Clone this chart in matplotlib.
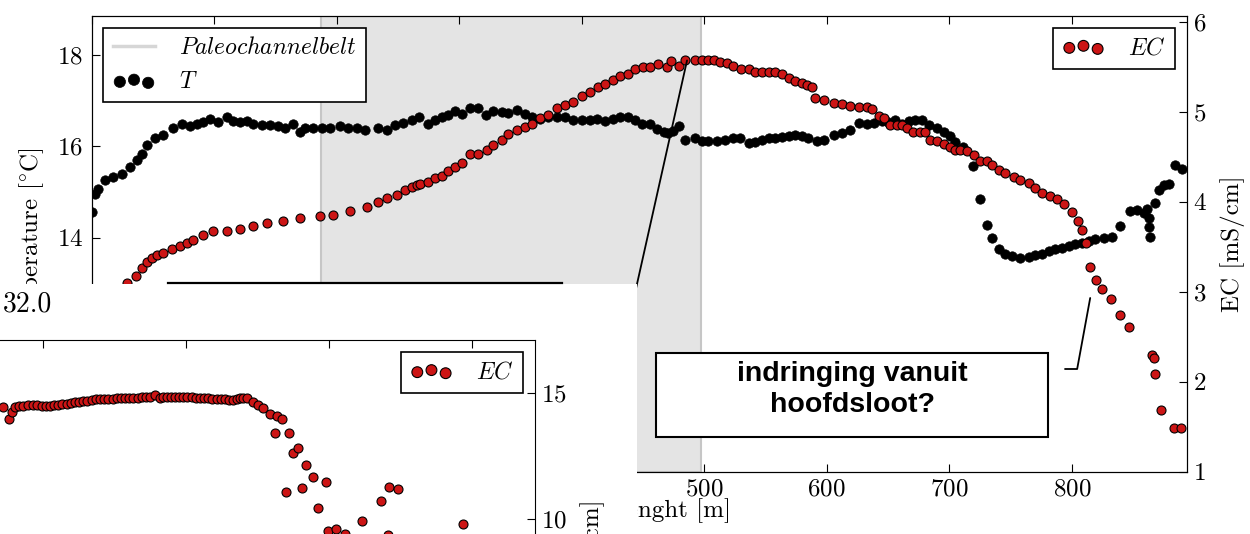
import matplotlib
matplotlib.use("Agg")
import matplotlib.pyplot as plt
from matplotlib.lines import Line2D
from matplotlib.patches import Rectangle

plt.rcParams.update({
    "font.family": "serif",
    "font.serif": ["cmr10"],
    "mathtext.fontset": "cm",
    "axes.formatter.use_mathtext": True,
    "axes.unicode_minus": False,
})

# main chart: temperature along the profile
dist_t = [0.2, 2.9, 5.6, 11.0, 17.8, 24.7, 31.4, 36.9, 41.0, 45.1,
          51.8, 58.6, 66.8, 73.6, 80.4, 85.9, 91.3, 96.7, 103.5, 110.4,
          115.8, 121.2, 126.7, 132.1, 139.0, 145.7, 152.5, 158.0, 164.7, 170.2,
          174.3, 181.1, 187.9, 194.7, 202.8, 209.6, 216.5, 223.3, 234.1, 241.0,
          247.7, 254.5, 261.4, 267.3, 274.9, 280.4, 285.9, 291.3, 296.7, 302.2,
          309.0, 315.8, 322.0, 328.0, 334.9, 340.2, 347.1, 353.9, 359.3, 366.1,
          372.9, 379.8, 386.5, 393.3, 400.2, 406.9, 412.4, 419.2, 425.9, 431.4,
          438.2, 443.7, 449.1, 455.9, 461.4, 466.8, 470.8, 474.9, 479.8, 484.5,
          492.7, 498.1, 503.5, 510.4, 517.1, 523.9, 529.4, 536.2, 541.6, 547.1,
          552.5, 558.0, 563.4, 568.8, 574.3, 579.7, 585.1, 592.0, 597.4, 605.6,
          612.4, 619.2, 626.0, 632.8, 638.2, 645.0, 650.4, 655.9, 661.4, 666.8,
          672.2, 677.7, 683.1, 689.9, 695.3, 700.8, 704.9, 711.6, 719.3, 725.3,
          730.8, 734.9, 740.2, 745.7, 751.2, 757.9, 764.7, 770.2, 775.7, 781.1,
          786.5, 792.0, 797.4, 802.8, 808.3, 813.7, 819.2, 825.9, 832.8, 839.6,
          847.7, 853.2, 858.6, 861.4, 862.7, 862.7, 864.1, 868.2, 870.8, 874.9,
          879.0, 884.4, 889.9]
temp = [14.56, 14.96, 15.07, 15.25, 15.33, 15.40, 15.54, 15.69, 15.84, 16.02,
        16.17, 16.24, 16.39, 16.49, 16.44, 16.49, 16.53, 16.60, 16.53, 16.64,
        16.55, 16.53, 16.55, 16.48, 16.46, 16.46, 16.44, 16.41, 16.48, 16.31,
        16.41, 16.40, 16.40, 16.40, 16.44, 16.41, 16.41, 16.35, 16.40, 16.36,
        16.46, 16.52, 16.57, 16.65, 16.48, 16.58, 16.63, 16.68, 16.77, 16.70,
        16.84, 16.84, 16.68, 16.77, 16.75, 16.73, 16.80, 16.71, 16.64, 16.60,
        16.63, 16.64, 16.65, 16.58, 16.58, 16.58, 16.60, 16.55, 16.60, 16.64,
        16.65, 16.58, 16.49, 16.48, 16.38, 16.31, 16.29, 16.33, 16.44, 16.14,
        16.19, 16.11, 16.11, 16.11, 16.13, 16.17, 16.17, 16.07, 16.09, 16.13,
        16.17, 16.17, 16.20, 16.22, 16.24, 16.22, 16.19, 16.11, 16.14, 16.24,
        16.29, 16.35, 16.51, 16.48, 16.51, 16.55, 16.53, 16.57, 16.48, 16.55,
        16.58, 16.58, 16.46, 16.41, 16.31, 16.22, 16.09, 15.98, 15.56, 14.85,
        14.27, 13.98, 13.74, 13.65, 13.59, 13.56, 13.58, 13.61, 13.65, 13.71,
        13.74, 13.78, 13.81, 13.85, 13.88, 13.93, 13.96, 13.98, 14.01, 14.25,
        14.58, 14.61, 14.54, 14.63, 14.42, 14.23, 14.01, 14.76, 15.05, 15.14,
        15.18, 15.58, 15.51]

# main chart: EC along the profile
dist_ec = [28.7, 36.3, 41.0, 45.1, 49.1, 53.2, 58.6, 65.5, 72.2, 77.7,
           83.1, 91.3, 99.4, 110.4, 121.2, 132.1, 143.0, 156.6, 170.2, 186.5,
           197.4, 211.0, 224.7, 234.1, 241.0, 249.1, 255.9, 261.4, 265.5, 268.2,
           274.9, 280.4, 285.9, 291.3, 296.7, 302.2, 309.0, 315.8, 322.6, 328.0,
           334.9, 340.2, 347.1, 353.9, 359.3, 366.1, 372.9, 379.8, 386.5, 393.3,
           400.2, 406.9, 413.7, 419.2, 425.9, 431.4, 438.2, 443.7, 450.4, 455.9,
           461.9, 469.6, 472.8, 479.8, 484.5, 492.7, 498.1, 503.5, 507.6, 513.1,
           518.5, 523.9, 530.0, 536.2, 541.6, 547.1, 552.5, 558.0, 563.4, 568.8,
           574.3, 579.7, 583.8, 587.9, 590.6, 597.4, 605.6, 612.4, 619.2, 626.0,
           632.8, 636.9, 642.3, 646.4, 651.8, 657.3, 661.4, 665.5, 670.8, 676.3,
           680.4, 684.5, 690.0, 695.3, 700.8, 704.9, 709.0, 714.4, 719.8, 725.3,
           730.8, 734.9, 740.2, 745.7, 752.5, 757.9, 764.7, 770.2, 775.7, 782.4,
           787.9, 793.3, 800.2, 804.7, 808.3, 811.8, 815.1, 820.0, 824.9, 832.2,
           839.6, 846.9, 865.5, 866.8, 868.2, 872.8, 883.1, 889.1]
ec = [3.10, 3.17, 3.26, 3.33, 3.38, 3.41, 3.43, 3.48, 3.51, 3.54,
      3.58, 3.63, 3.67, 3.68, 3.70, 3.73, 3.76, 3.79, 3.82, 3.84,
      3.85, 3.90, 3.94, 4.00, 4.04, 4.07, 4.13, 4.16, 4.19, 4.20,
      4.22, 4.26, 4.29, 4.34, 4.39, 4.43, 4.53, 4.53, 4.57, 4.63,
      4.69, 4.75, 4.80, 4.83, 4.86, 4.93, 4.96, 5.04, 5.08, 5.11,
      5.18, 5.22, 5.27, 5.31, 5.35, 5.40, 5.42, 5.47, 5.50, 5.50,
      5.53, 5.50, 5.56, 5.51, 5.57, 5.58, 5.58, 5.57, 5.57, 5.55,
      5.54, 5.51, 5.48, 5.47, 5.44, 5.44, 5.44, 5.44, 5.42, 5.37,
      5.34, 5.32, 5.30, 5.27, 5.15, 5.13, 5.10, 5.09, 5.06, 5.05,
      5.05, 5.03, 4.95, 4.93, 4.85, 4.85, 4.85, 4.82, 4.77, 4.77,
      4.77, 4.69, 4.67, 4.64, 4.61, 4.58, 4.57, 4.56, 4.52, 4.45,
      4.45, 4.41, 4.35, 4.32, 4.28, 4.24, 4.21, 4.15, 4.10, 4.06,
      4.03, 3.97, 3.89, 3.79, 3.69, 3.54, 3.27, 3.13, 3.03, 2.92,
      2.74, 2.61, 2.30, 2.26, 2.09, 1.69, 1.48, 1.48]

belt_start, belt_end = 187, 497

# second (pasted) chart, EC only
dist_in = [72.3, 75.9, 78.1, 80.4, 83.3, 86.2, 89.7, 93.2, 96.1, 99.0,
           101.9, 104.9, 107.8, 110.7, 113.6, 116.6, 119.5, 122.4, 125.3, 128.2,
           131.1, 134.1, 137.0, 139.9, 142.8, 145.7, 148.6, 151.6, 154.5, 157.4,
           160.3, 163.2, 166.1, 169.1, 172.0, 174.9, 178.4, 181.8, 184.2, 186.5,
           189.4, 192.3, 195.2, 198.1, 201.0, 204.0, 206.9, 209.8, 212.7, 215.6,
           218.5, 221.4, 224.3, 227.3, 230.2, 233.1, 235.4, 237.8, 240.1, 242.4,
           246.9, 250.3, 253.8, 258.7, 263.6, 267.1, 261.9,
           272.2, 275.0, 278.5, 283.9, 288.6, 297.9, 269.9, 280.8, 292.5, 299.5,
           342.2, 348.0, 336.4, 323.3, 393.5, 304.8, 311.2, 341.3]
ec_in = [14.46, 13.96, 14.26, 14.46, 14.47, 14.48, 14.50, 14.52, 14.50, 14.49,
         14.49, 14.48, 14.50, 14.52, 14.54, 14.56, 14.59, 14.62, 14.64, 14.66,
         14.69, 14.72, 14.74, 14.75, 14.75, 14.75, 14.77, 14.79, 14.79, 14.79,
         14.79, 14.79, 14.81, 14.83, 14.83, 14.83, 14.91, 14.79, 14.82, 14.85,
         14.85, 14.85, 14.84, 14.83, 14.83, 14.83, 14.80, 14.78, 14.78, 14.78,
         14.76, 14.75, 14.75, 14.75, 14.73, 14.72, 14.75, 14.78, 14.79, 14.79,
         14.65, 14.52, 14.39, 14.17, 14.09, 13.96, 13.42,
         13.40, 12.63, 12.81, 12.13, 11.68, 11.45, 11.07, 11.22, 10.42, 9.50,
         11.26, 11.20, 10.69, 9.93, 9.80, 9.61, 9.40, 9.36]

red = "#cc1515"
grey_band = "#e4e4e4"

fig = plt.figure(figsize=(12.5, 5.34), dpi=100)

ax = fig.add_axes([0.0732, 0.1167, 0.8764, 0.8539])
ax.axvspan(belt_start, belt_end, facecolor=grey_band, edgecolor="#c6c6c6", lw=1.5, zorder=0)
sc_t = ax.scatter(dist_t, temp, s=46, c="black", edgecolors="black", linewidths=0.5, zorder=3, label="$T$")
ax.set_xlim(0, 894)
ax.set_ylim(8.87, 18.86)
ax.set_yticks([10, 12, 14, 16, 18])
ax.set_xticks(range(0, 900, 100))
ax.tick_params(direction="in", length=6, labelsize=18, top=True, right=False, pad=6)
ax.tick_params(axis="x", pad=5)
ax.set_ylabel("Temperature [$^{\\circ}$C]", fontsize=18, labelpad=8)
ax.set_xlabel("Lenght [m]", fontsize=18)
ax.xaxis.set_label_coords(0.529, -0.058)
belt_handle = Line2D([], [], color="#d6d6d6", lw=2.5, label="$Paleochannelbelt$")
leg = ax.legend(handles=[belt_handle, sc_t], loc="upper left", scatterpoints=3, fontsize=17,
                fancybox=False, edgecolor="black", framealpha=1, handlelength=1.8,
                handletextpad=1.0, markerscale=1.2)
leg.get_frame().set_linewidth(1.2)

ax2 = ax.twinx()
ax2.scatter(dist_ec, ec, s=42, c=red, edgecolors="black", linewidths=0.8, zorder=3, label="$EC$")
ax2.set_ylim(1, 6.067)
ax2.set_yticks(range(1, 7))
ax2.tick_params(direction="in", length=6, labelsize=18, pad=4)
ax2.set_ylabel("EC [mS/cm]", fontsize=18, labelpad=10)
leg2 = ax2.legend(loc="upper right", scatterpoints=3, fontsize=17, fancybox=False,
                  edgecolor="black", framealpha=1, handlelength=1.8, handletextpad=1.0,
                  markerscale=1.2)
leg2.get_frame().set_linewidth(1.2)

# callout lines
ax2.annotate("", xy=(486, 5.57), xytext=(620, 174), textcoords="figure pixels",
             arrowprops=dict(arrowstyle="-", color="black", lw=1.3, shrinkA=0, shrinkB=0))
ax2.annotate("", xy=(815, 2.93), xytext=(1065, 165), textcoords="figure pixels",
             arrowprops=dict(arrowstyle="-", color="black", lw=1.3, shrinkA=0, shrinkB=0,
                             connectionstyle="angle,angleA=0,angleB=79.6,rad=0"))

# text box
fig.add_artist(Rectangle((0.5248, 0.1816), 0.3136, 0.1573, transform=fig.transFigure,
                         facecolor="white", edgecolor="black", lw=1.5, zorder=7))
fig.text(0.6816, 0.2697, "indringing vanuit\nhoofdsloot?", ha="center", va="center",
         fontsize=20.5, fontweight="bold", family="Liberation Sans", linespacing=1.25, zorder=8)

# pasted second chart
fig.add_artist(Rectangle((0, 0), 0.5096, 0.4682, transform=fig.transFigure,
                         facecolor="white", edgecolor="none", zorder=5))
fig.add_artist(Line2D([0.1344, 0.4496], [0.47, 0.47], transform=fig.transFigure,
                      color="black", lw=1.6, zorder=6))
fig.text(0.002, 1 - 304 / 534, "32.0", fontsize=20, ha="left", va="center", zorder=6)

axin = fig.add_axes([-0.08, -0.4906, 0.508, 0.8539])
axin.set_zorder(10)
axin.scatter(dist_in, ec_in, s=42, c=red, edgecolors="black", linewidths=0.8, zorder=3, label="$EC$")
axin.set_xlim(0, 444)
axin.set_ylim(-1, 17.1)
axin.set_xticks([0, 100, 200, 300, 400])
axin.set_yticks([0, 5, 10, 15])
axin.tick_params(direction="in", length=6, labelsize=18, top=True, right=True,
                 labelleft=False, labelright=True, pad=4)
axin.yaxis.set_label_position("right")
axin.set_ylabel("EC [mS/cm]", fontsize=18, labelpad=10)
leg3 = axin.legend(loc="upper right", scatterpoints=3, fontsize=17, fancybox=False,
                   edgecolor="black", framealpha=1, handlelength=1.8, handletextpad=1.0,
                   markerscale=1.2)
leg3.get_frame().set_linewidth(1.2)

fig.savefig("out.png", dpi=100)
